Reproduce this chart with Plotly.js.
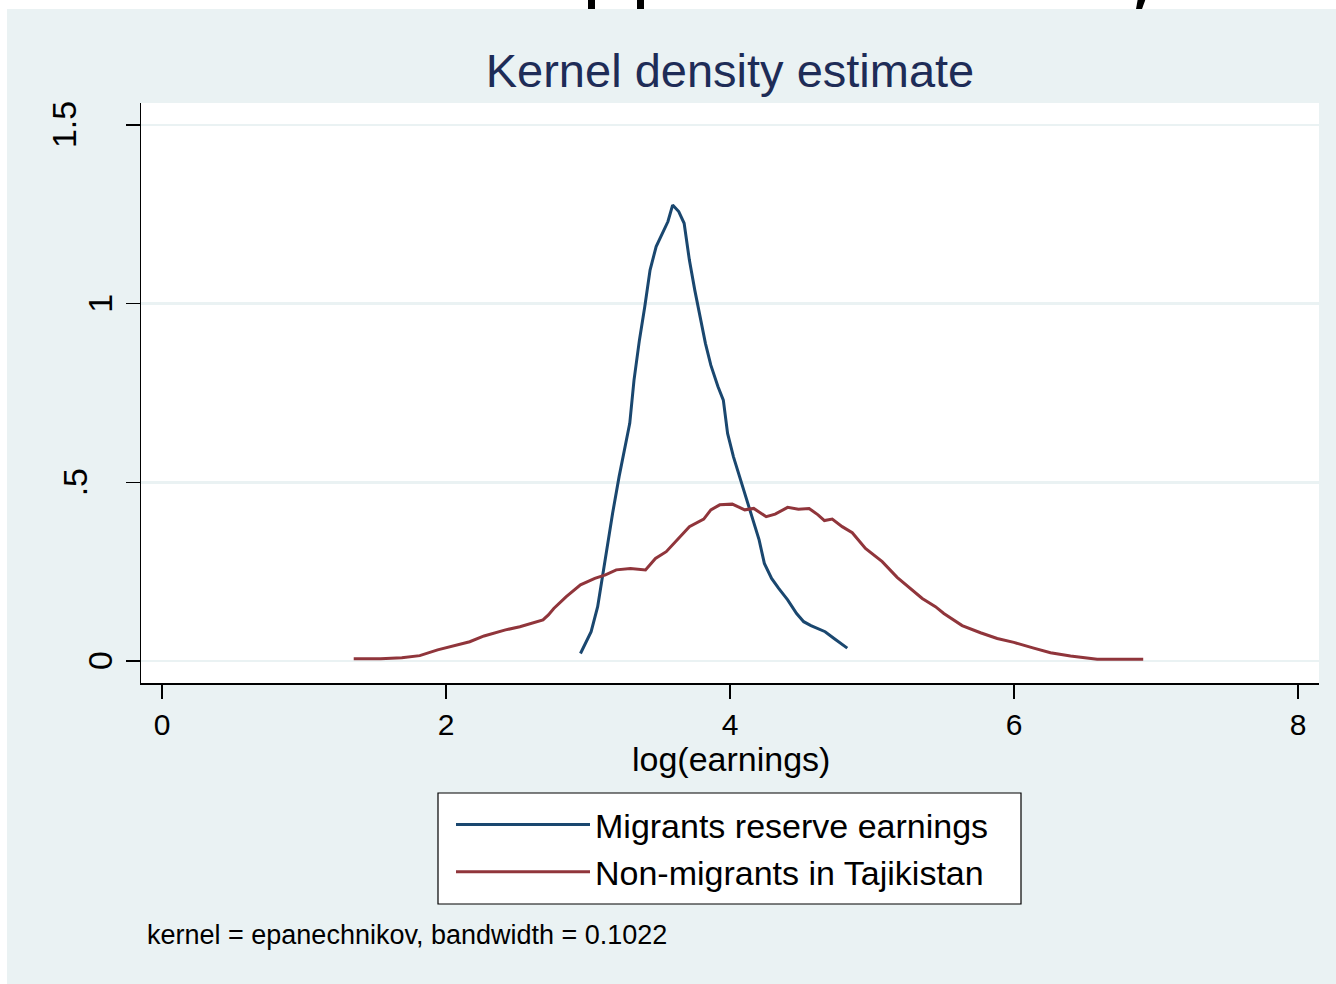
<!DOCTYPE html>
<html>
<head>
<meta charset="utf-8">
<script src="https://cdn.plot.ly/plotly-3.0.1.min.js"></script>
<style>
html,body{margin:0;padding:0;background:#ffffff;}
#chart{width:1336px;height:984px;}
</style>
</head>
<body>
<div id="chart"></div>
<script>
// Migrants reserve earnings (kernel density)
const migrantsX = [2.947,3.022,3.068,3.111,3.173,3.219,3.269,3.294,3.324,3.362,3.400,3.437,3.480,3.525,3.563,3.596,3.639,3.677,3.714,3.752,3.790,3.827,3.865,3.915,3.953,3.983,4.024,4.053,4.104,4.154,4.205,4.242,4.293,4.343,4.406,4.469,4.519,4.570,4.670,4.733,4.826];
const migrantsY = [0.021,0.082,0.152,0.264,0.413,0.516,0.609,0.665,0.786,0.898,0.992,1.094,1.160,1.197,1.230,1.276,1.258,1.225,1.122,1.038,0.964,0.889,0.828,0.768,0.730,0.637,0.572,0.535,0.469,0.404,0.339,0.273,0.231,0.203,0.171,0.133,0.110,0.099,0.082,0.063,0.036];

// Non-migrants in Tajikistan (kernel density)
const nonMigrantsX = [1.350,1.539,1.689,1.815,1.941,2.042,2.167,2.268,2.419,2.520,2.595,2.683,2.721,2.759,2.847,2.947,3.048,3.123,3.199,3.299,3.405,3.475,3.551,3.626,3.714,3.815,3.865,3.928,4.016,4.104,4.167,4.255,4.318,4.406,4.482,4.557,4.620,4.665,4.720,4.790,4.861,4.954,5.072,5.177,5.271,5.354,5.447,5.506,5.635,5.764,5.882,5.999,6.139,6.257,6.398,6.586,6.910];
const nonMigrantsY = [0.006,0.006,0.009,0.015,0.031,0.042,0.054,0.070,0.087,0.096,0.105,0.115,0.129,0.147,0.180,0.213,0.231,0.241,0.255,0.259,0.255,0.287,0.306,0.339,0.376,0.397,0.423,0.437,0.439,0.423,0.427,0.404,0.411,0.430,0.425,0.427,0.409,0.393,0.397,0.376,0.359,0.315,0.278,0.234,0.203,0.175,0.152,0.133,0.099,0.079,0.063,0.052,0.036,0.023,0.014,0.005,0.005];

const xTickVals = [0,2,4,6,8];
const xTickText = ['0','2','4','6','8'];
const yTickVals = [0,0.5,1,1.5];
const yTickText = ['0','.5','1','1.5'];

const seriesNames = ['Migrants reserve earnings','Non-migrants in Tajikistan'];
const chartTitle = 'Kernel density estimate';
const xTitle = 'log(earnings)';
const noteText = 'kernel = epanechnikov, bandwidth = 0.1022';

const FONT = 'Liberation Sans, Arial, sans-serif';
const BG = '#EAF2F3';

// horizontal offsets (px) of the rotated y tick labels, as placed in the original
const yLabelShift = [-20, -45, -20, -56];

const traces = [
  {x: migrantsX, y: migrantsY, type:'scatter', mode:'lines', name: seriesNames[0],
   legendgroup:'a', line:{color:'#1A476F', width:3}},
  {x: nonMigrantsX, y: nonMigrantsY, type:'scatter', mode:'lines', name: seriesNames[1],
   legendgroup:'b', line:{color:'#90353B', width:3}}
];

const yLabelAnns = yTickVals.map((v, i) => ({
  text: yTickText[i], xref:'paper', yref:'y', x:0, y:v,
  xanchor:'right', yanchor:'middle', textangle:-90, showarrow:false,
  xshift: yLabelShift[i],
  font:{family:FONT, size:34, color:'#000000'}
}));

const layout = {
  width:1336, height:984,
  margin:{l:141, r:17, t:103, b:301, pad:0},
  paper_bgcolor:'#ffffff',
  plot_bgcolor:'#ffffff',
  font:{family:FONT, color:'#000000', size:30},
  title:{text:chartTitle, font:{family:FONT, size:47, color:'#1E2C57'},
         xref:'paper', x:0.5, xanchor:'center', yref:'container', y:1-71/984, yanchor:'middle'},
  showlegend:true,
  legend:{x:(451-141)/1178, xanchor:'left', y:-0.1948, yanchor:'top',
          bgcolor:'rgba(0,0,0,0)', borderwidth:0,
          font:{family:FONT, size:34, color:'#000000'},
          itemwidth:134, tracegroupgap:4, traceorder:'normal'},
  xaxis:{range:[-0.148, 8.148], tickvals:xTickVals, ticktext:xTickText,
         ticks:'outside', ticklen:14, tickwidth:1.5, tickcolor:'#000000',
         showline:true, linecolor:'#000000', linewidth:1.5,
         showgrid:false, zeroline:false,
         tickfont:{family:FONT, size:30, color:'#000000'}},
  yaxis:{range:[-0.0616, 1.5617], tickvals:yTickVals, showticklabels:false,
         ticks:'outside', ticklen:14, tickwidth:1.5, tickcolor:'#000000',
         showline:true, linecolor:'#000000', linewidth:1.5,
         showgrid:true, gridcolor:BG, gridwidth:2.5, zeroline:false},
  shapes:[
    {type:'rect', xref:'paper', yref:'paper', x0:-0.11375, x1:1.1, y0:-0.6, y1:1.16207,
     fillcolor:BG, line:{width:0}, layer:'below'},
    {type:'rect', xref:'paper', yref:'paper', x0:0, x1:1, y0:0, y1:1,
     fillcolor:'#ffffff', line:{width:0}, layer:'below'},
    // legend frame
    {type:'rect', xref:'paper', yref:'paper', x0:(438-141)/1178, x1:(1021-141)/1178,
     y0:(683-904)/580, y1:(683-793)/580,
     fillcolor:'#ffffff', line:{color:'#000000', width:1.2}, layer:'below'},
    // fragments of the slide heading cut off above the chart
    {type:'rect', xref:'paper', yref:'paper', x0:0.37946, x1:0.38540, y0:1.16207, y1:1.2,
     fillcolor:'#000000', line:{width:0}, layer:'below'},
    {type:'rect', xref:'paper', yref:'paper', x0:0.42105, x1:0.42699, y0:1.16207, y1:1.2,
     fillcolor:'#000000', line:{width:0}, layer:'below'},
    {type:'path', xref:'paper', yref:'paper',
     path:'M 0.84805 1.2 L 0.85654 1.2 L 0.84975 1.16207 L 0.84465 1.16207 Z',
     fillcolor:'#000000', line:{width:0}, layer:'below'}
  ],
  annotations: yLabelAnns.concat([
    {text:xTitle, xref:'paper', yref:'paper', x:(731-141)/1178, y:(683-759)/580,
     xanchor:'center', yanchor:'middle', showarrow:false,
     font:{family:FONT, size:34, color:'#000000'}},
    {text:noteText, xref:'paper', yref:'paper', x:(145-141)/1178, y:-0.4345,
     xanchor:'left', yanchor:'middle', showarrow:false,
     font:{family:FONT, size:27, color:'#000000'}}
  ])
};

Plotly.newPlot('chart', traces, layout, {displayModeBar:false, staticPlot:true});
</script>
</body>
</html>
